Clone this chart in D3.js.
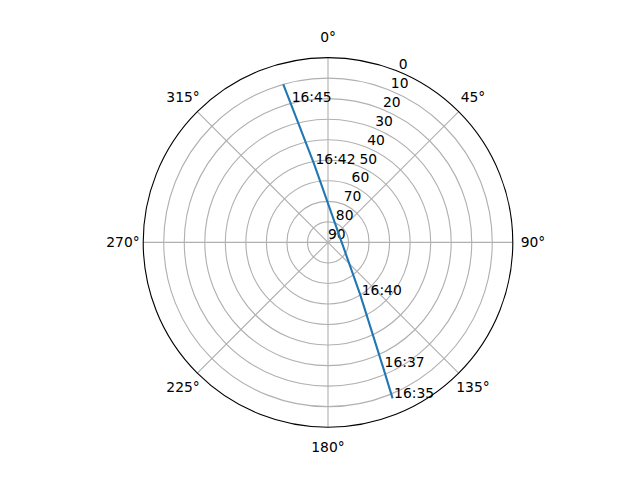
<!DOCTYPE html>
<html>
<head>
<meta charset="utf-8">
<script src="https://cdn.jsdelivr.net/npm/d3@7"></script>
<style>
    body { margin: 0; background: #fff; }
    text { font-family: "DejaVu Sans", sans-serif; font-size: 13.89px; fill: #000; }
</style>
</head>
<body>
<div id="chart"></div>
<script>
// Satellite pass (azimuth deg, elevation deg)
const azimuth = [157.5, 156.2, 148.4, 349.9, 344.9, 344.2];
const elevation = [7.8, 23.5, 60.0, 51.2, 19.3, 10.0];

// Time labels placed at points of the track
const labelTimes = ['16:35', '16:37', '16:40', '16:42', '16:45'];
const labelAzimuth = [157.5, 156.2, 148.4, 349.9, 344.9];
const labelElevation = [7.8, 23.5, 60.0, 51.2, 19.3];

// Axis ticks
const thetaTicks = [0, 45, 90, 135, 180, 225, 270, 315];
const radialTicks = [0, 10, 20, 30, 40, 50, 60, 70, 80, 90];

const width = 640;
const height = 480;
const cx = 328;
const cy = 242.4;
const radius = 184.8;

const svg = d3.select('#chart')
    .append('svg')
    .attr('width', width)
    .attr('height', height)
    .append('g')
    .attr('transform', `translate(${cx},${cy})`);

// elevation 90 at the centre, 0 on the rim
const r = d3.scaleLinear().domain([90, 0]).range([0, radius]);
// azimuth 0 at north, clockwise
const a = d3.scaleLinear().domain([0, 360]).range([0, Math.PI * 2]);

const px = (az, el) => r(el) * Math.sin(a(az));
const py = (az, el) => -r(el) * Math.cos(a(az));

// Radial grid circles
svg.selectAll('.grid-circle')
    .data(radialTicks.filter(d => d > 0 && d < 90))
    .enter()
    .append('circle')
    .attr('class', 'grid-circle')
    .attr('r', d => r(d))
    .style('fill', 'none')
    .style('stroke', '#b0b0b0')
    .style('stroke-width', 1.11);

// Angular grid lines
svg.selectAll('.grid-spoke')
    .data(thetaTicks)
    .enter()
    .append('line')
    .attr('class', 'grid-spoke')
    .attr('x1', 0)
    .attr('y1', 0)
    .attr('x2', d => px(d, 0))
    .attr('y2', d => py(d, 0))
    .style('stroke', '#b0b0b0')
    .style('stroke-width', 1.11);

// Outer spine
svg.append('circle')
    .attr('r', r(0))
    .style('fill', 'none')
    .style('stroke', '#000')
    .style('stroke-width', 1.11);

// Theta tick labels
svg.selectAll('.theta-label')
    .data(thetaTicks)
    .enter()
    .append('text')
    .attr('class', 'theta-label')
    .attr('x', d => (radius + 20.2) * Math.sin(a(d)))
    .attr('y', d => -(radius + 20.2) * Math.cos(a(d)))
    .attr('text-anchor', 'middle')
    .attr('dominant-baseline', 'central')
    .text(d => `${d}°`);

// Radial tick labels along 22.5 deg
svg.selectAll('.r-label')
    .data(radialTicks)
    .enter()
    .append('text')
    .attr('class', 'r-label')
    .attr('x', d => px(22.5, d))
    .attr('y', d => py(22.5, d) - 3)
    .text(d => d);

// Track line
const track = azimuth.map((az, i) => ({ az, el: elevation[i] }));

const line = d3.lineRadial()
    .angle(d => a(d.az))
    .radius(d => r(d.el));

svg.append('path')
    .datum(track)
    .attr('d', line)
    .attr('fill', 'none')
    .attr('stroke', '#1f77b4')
    .attr('stroke-width', 2.08);

// Time labels
svg.selectAll('.time-label')
    .data(labelTimes)
    .enter()
    .append('text')
    .attr('class', 'time-label')
    .attr('x', (d, i) => px(labelAzimuth[i], labelElevation[i]) + 1.5)
    .attr('y', (d, i) => py(labelAzimuth[i], labelElevation[i]))
    .text(d => d);
</script>
</body>
</html>
